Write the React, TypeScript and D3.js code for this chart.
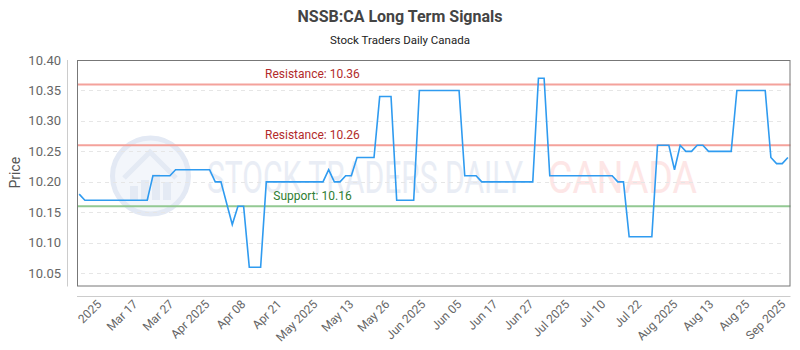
import { useRef, useEffect } from "react";
import * as d3 from "d3";

// daily closes
const prices: number[] = [
  10.18,
  10.17, 10.17, 10.17, 10.17, 10.17, 10.17, 10.17, 10.17, 10.17, 10.17, 10.17, 10.17,
  10.21, 10.21, 10.21, 10.21,
  10.22, 10.22, 10.22, 10.22, 10.22, 10.22, 10.22,
  10.2, 10.2, 10.165, 10.13, 10.16, 10.16,
  10.06, 10.06, 10.06,
  10.2, 10.2, 10.2, 10.2, 10.2, 10.2, 10.2, 10.2, 10.2, 10.2, 10.2,
  10.22, 10.2, 10.2, 10.21, 10.21,
  10.24, 10.24, 10.24, 10.24,
  10.34, 10.34, 10.34,
  10.17, 10.17, 10.17, 10.17,
  10.35, 10.35, 10.35, 10.35, 10.35, 10.35, 10.35, 10.35,
  10.21, 10.21, 10.21,
  10.2, 10.2, 10.2, 10.2, 10.2, 10.2, 10.2, 10.2, 10.2, 10.2,
  10.37, 10.37,
  10.21, 10.21, 10.21, 10.21, 10.21, 10.21, 10.21, 10.21, 10.21, 10.21, 10.21, 10.21,
  10.2, 10.2,
  10.11, 10.11, 10.11, 10.11, 10.11,
  10.26, 10.26, 10.26, 10.22, 10.26, 10.25, 10.25, 10.26, 10.26,
  10.25, 10.25, 10.25, 10.25, 10.25,
  10.35, 10.35, 10.35, 10.35, 10.35, 10.35,
  10.24, 10.23, 10.23, 10.24,
];

const tickLabels: string[] = [
  "2025", "Mar 17", "Mar 27", "Apr 2025", "Apr 08", "Apr 21", "May 2025",
  "May 13", "May 26", "Jun 2025", "Jun 05", "Jun 17", "Jun 27", "Jul 2025",
  "Jul 10", "Jul 22", "Aug 2025", "Aug 13", "Aug 25", "Sep 2025",
];
// where the first label sits and how far apart labels are, in data-index units
const tickStart = 3.7;
const tickStep = 6.35;

const yTicks: number[] = [10.05, 10.1, 10.15, 10.2, 10.25, 10.3, 10.35, 10.4];
const resistance: number[] = [10.36, 10.26];
const support: number[] = [10.16];

const FONT = "Roboto, 'Open Sans', sans-serif";

const App = () => {
  const ref = useRef<SVGSVGElement>(null);

  useEffect(() => {
    if (!ref.current) return;
    const svg = d3.select(ref.current);
    svg.selectAll("*").remove();

    const box = { left: 77, right: 790.5, top: 60, bottom: 285.5 };

    const x = d3
      .scaleLinear()
      .domain([0, prices.length - 1])
      .range([79.2, 787.9]);
    const y = d3.scaleLinear().domain([10.03, 10.4]).range([box.bottom, box.top]);

    // titles
    svg
      .append("text")
      .attr("x", 400)
      .attr("y", 22)
      .attr("text-anchor", "middle")
      .style("font-family", FONT)
      .style("font-size", "16px")
      .style("font-weight", "700")
      .style("fill", "#444")
      .text("NSSB:CA Long Term Signals");
    svg
      .append("text")
      .attr("x", 400)
      .attr("y", 44)
      .attr("text-anchor", "middle")
      .style("font-family", FONT)
      .style("font-size", "11.5px")
      .style("fill", "#222")
      .text("Stock Traders Daily Canada");

    // watermark
    const wm = svg.append("g");
    wm.append("circle")
      .attr("cx", 150.5)
      .attr("cy", 176)
      .attr("r", 38)
      .attr("fill", "#f3f6fb")
      .attr("stroke", "#e3e9f4")
      .attr("stroke-width", 5);
    const bars = [14, 20, 26, 18];
    bars.forEach((h, i) => {
      wm.append("rect")
        .attr("x", 130 + i * 11)
        .attr("y", 200 - h)
        .attr("width", 8)
        .attr("height", h)
        .attr("fill", "#e4eaf4");
    });
    wm.append("path")
      .attr("d", "M124,178 L150,152 L176,178")
      .attr("fill", "none")
      .attr("stroke", "#e4eaf4")
      .attr("stroke-width", 5);
    wm.append("text")
      .attr("x", 207)
      .attr("y", 193)
      .attr("textLength", 316)
      .attr("lengthAdjust", "spacingAndGlyphs")
      .style("font-family", FONT)
      .style("font-size", "44px")
      .style("fill", "#e9edf5")
      .text("STOCK TRADERS DAILY");
    wm.append("text")
      .attr("x", 548)
      .attr("y", 193)
      .attr("textLength", 149)
      .attr("lengthAdjust", "spacingAndGlyphs")
      .style("font-family", FONT)
      .style("font-size", "44px")
      .style("fill", "#fde6e6")
      .text("CANADA");

    // grid
    svg
      .append("g")
      .selectAll("line")
      .data(yTicks.filter((t) => t < 10.4))
      .enter()
      .append("line")
      .attr("x1", box.left + 4)
      .attr("x2", box.right - 6)
      .attr("y1", (d) => Math.round(y(d)) + 0.5)
      .attr("y2", (d) => Math.round(y(d)) + 0.5)
      .attr("stroke", "#e6e6e6")
      .attr("stroke-dasharray", "4,4");

    // y axis (offset from the box)
    svg
      .append("line")
      .attr("x1", 67.5)
      .attr("x2", 67.5)
      .attr("y1", box.top)
      .attr("y2", box.bottom + 1)
      .attr("stroke", "#ccc");
    svg
      .append("g")
      .selectAll("text")
      .data(yTicks)
      .enter()
      .append("text")
      .attr("x", 61)
      .attr("y", (d) => y(d))
      .attr("dy", "0.35em")
      .attr("text-anchor", "end")
      .style("font-family", FONT)
      .style("font-size", "13px")
      .style("fill", "#666")
      .text((d) => d.toFixed(2));
    svg
      .append("text")
      .attr("transform", `translate(20,${(box.top + box.bottom) / 2}) rotate(-90)`)
      .attr("text-anchor", "middle")
      .style("font-family", FONT)
      .style("font-size", "14px")
      .style("fill", "#555")
      .text("Price");

    // x axis
    svg
      .append("line")
      .attr("x1", box.left)
      .attr("x2", box.right)
      .attr("y1", 296.5)
      .attr("y2", 296.5)
      .attr("stroke", "#ccc");
    svg
      .append("g")
      .selectAll("text")
      .data(tickLabels)
      .enter()
      .append("text")
      .attr("transform", (_d, i) => `translate(${x(tickStart + i * tickStep) + 2},305) rotate(-45)`)
      .attr("text-anchor", "end")
      .style("font-family", FONT)
      .style("font-size", "12px")
      .style("fill", "#666")
      .text((d) => d);

    // support / resistance
    const lvl = svg.append("g");
    const levels = [
      ...resistance.map((v) => ({ v, name: "Resistance", line: "#f4a29b", txt: "#b22b2b" })),
      ...support.map((v) => ({ v, name: "Support", line: "#93c993", txt: "#2e7d32" })),
    ];
    levels.forEach((l) => {
      lvl
        .append("line")
        .attr("x1", box.left)
        .attr("x2", box.right)
        .attr("y1", y(l.v))
        .attr("y2", y(l.v))
        .attr("stroke", l.line)
        .attr("stroke-width", 2);
      lvl
        .append("text")
        .attr("x", box.left + (box.right - box.left) * 0.33)
        .attr("y", y(l.v) - 6)
        .attr("text-anchor", "middle")
        .style("font-family", FONT)
        .style("font-size", "12px")
        .style("fill", l.txt)
        .text(`${l.name}: ${l.v.toFixed(2)}`);
    });

    // price line
    const line = d3
      .line<number>()
      .x((_d, i) => x(i))
      .y((d) => y(d));
    svg
      .append("path")
      .datum(prices)
      .attr("d", line)
      .attr("fill", "none")
      .attr("stroke", "#2f9bf0")
      .attr("stroke-width", 1.6);

    // plot frame
    svg
      .append("rect")
      .attr("x", box.left + 0.5)
      .attr("y", box.top + 0.5)
      .attr("width", box.right - box.left - 1)
      .attr("height", box.bottom - box.top)
      .attr("fill", "none")
      .attr("stroke", "#777");

    return () => {
      svg.selectAll("*").remove();
    };
  }, []);

  return (
    <svg
      ref={ref}
      width={800}
      height={350}
      style={{ position: "absolute", left: 0, top: 0, background: "#fff" }}
    ></svg>
  );
};

export default App;
